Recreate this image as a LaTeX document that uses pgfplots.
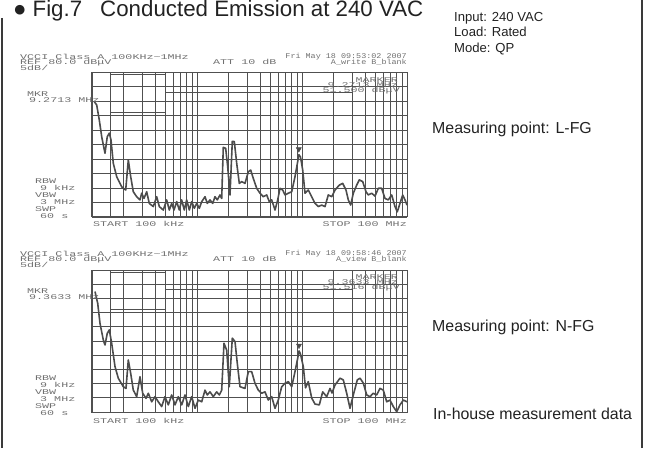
\documentclass[border=0pt]{standalone}
\usepackage{fontspec}
\setmainfont{Liberation Sans}
\newfontfamily\monof{Liberation Mono}
\usepackage{graphicx}
\usepackage{pgfplots}
\pgfplotsset{compat=1.18}
\definecolor{gridc}{HTML}{505050}
\definecolor{curvec}{HTML}{4C4C4C}
\definecolor{anc}{HTML}{707070}
\definecolor{framec}{HTML}{3A3A3A}
\definecolor{txtc}{HTML}{222222}
\newcommand{\an}[1]{\scalebox{1}[0.62]{\monof\fontsize{11.7}{11.7}\selectfont #1}}
\newcommand{\ann}[1]{\scalebox{0.72}[0.62]{\monof\fontsize{11.7}{11.7}\selectfont #1}}

\pgfplotstableread{
f db
0.1052 69.8
0.1109 68.6
0.1174 63.4
0.1237 57.7
0.1330 52.0
0.1398 57.7
0.1462 58.9
0.1517 56.6
0.1595 48.5
0.1719 43.9
0.1918 40.4
0.2094 39.3
0.2217 49.7
0.2337 43.9
0.2474 38.7
0.2665 37.0
0.2865 35.9
0.2974 38.2
0.3128 36.4
0.3319 38.7
0.3513 34.7
0.3835 33.6
0.4133 37.0
0.4375 33.6
0.4775 32.4
0.5145 35.9
0.5447 32.4
0.5741 34.7
0.6039 32.4
0.6408 35.3
0.6783 32.4
0.7150 35.9
0.7568 32.4
0.7978 35.9
0.8447 32.4
0.8904 35.3
0.9426 33.0
0.9934 34.7
1.052 33.0
1.109 35.3
1.192 37.0
1.253 34.7
1.330 35.9
1.411 34.7
1.484 37.0
1.561 35.9
1.656 37.6
1.719 36.4
1.780 54.0
1.876 53.7
1.961 47.3
2.062 37.6
2.169 56.1
2.266 56.0
2.389 48.5
2.529 41.6
2.665 42.2
2.865 41.6
3.081 45.6
3.247 46.2
3.438 43.3
3.704 39.9
3.981 38.2
4.279 37.0
4.611 37.6
4.882 35.3
5.145 35.9
5.534 32.4
5.870 35.9
6.173 39.9
6.550 39.3
6.889 37.6
7.406 38.2
7.981 38.7
8.577 43.9
9.10 49.1
9.323 51.5
9.676 50.7
10.16 46.2
10.68 38.2
11.48 39.3
12.37 37.0
13.30 34.7
14.29 33.6
15.40 34.1
16.56 33.6
17.80 37.6
19.18 37.0
20.62 39.3
22.66 41.0
24.41 41.6
26.24 39.3
27.61 35.9
29.09 34.1
30.81 38.2
33.19 41.0
35.13 42.8
37.86 42.2
40.69 38.7
42.79 37.6
46.11 38.2
49.57 37.2
53.30 39.9
57.41 39.9
61.73 36.4
66.36 35.9
71.50 37.6
76.86 33.6
80.84 31.8
85.77 34.7
91.00 37.6
95.72 35.9
100.0 34.1
}\lfg

\pgfplotstableread{
f db
0.1068 72.4
0.1133 68.3
0.1192 61.2
0.1281 55.4
0.1330 53.6
0.1398 57.7
0.1462 58.9
0.1540 54.2
0.1656 46.0
0.1780 41.9
0.1987 38.9
0.2108 38.3
0.2217 48.3
0.2337 43.6
0.2474 37.7
0.2665 35.4
0.2865 42.4
0.3041 36.6
0.3268 34.8
0.3438 36.6
0.3704 33.6
0.3981 35.4
0.4279 33.6
0.4611 31.9
0.4957 35.4
0.5330 32.5
0.5741 36.0
0.6173 32.5
0.6636 35.4
0.7150 32.5
0.7686 36.0
0.8263 31.9
0.8904 35.4
0.9572 31.3
1.029 34.2
1.109 33.6
1.192 37.7
1.253 36.0
1.330 37.1
1.429 35.4
1.540 37.1
1.631 36.0
1.719 37.7
1.808 54.2
1.918 51.8
2.030 38.9
2.169 56.0
2.301 54.8
2.420 47.1
2.568 38.9
2.865 38.3
3.081 44.2
3.319 44.2
3.568 40.1
3.835 37.7
4.133 36.6
4.442 37.1
4.775 34.2
5.145 35.4
5.534 31.3
5.947 34.2
6.408 38.9
6.889 40.1
7.406 40.7
7.981 38.9
8.577 44.2
9.10 48.9
9.363 51.5
9.676 50.4
10.29 46.0
10.80 38.5
11.48 40.7
12.37 34.9
13.30 32.8
14.62 32.5
15.74 37.1
17.19 35.4
18.48 38.3
19.31 36.7
20.62 39.5
23.01 41.9
24.74 41.3
26.65 36.6
28.65 31.3
30.81 36.0
33.63 41.3
35.68 41.9
38.35 40.2
41.33 36.0
44.42 35.4
47.75 36.6
51.45 36.0
55.34 38.3
59.47 37.7
64.08 33.6
68.89 34.2
74.06 31.9
79.81 30.1
85.77 32.5
92.21 34.2
100.0 33.6
}\nfg

\begin{document}
\begin{tikzpicture}[x=1pt,y=1pt]
\path[use as bounding box] (0,0) rectangle (646,448);
% frame (left and right edges only)
\draw[framec, line width=1.5pt] (2,430) -- (2,0);
\draw[framec, line width=1.5pt] (642,0) -- (642,448);

% title and notes
\node[anchor=base west, inner sep=0, text=txtc, font=\fontsize{22.3}{22.3}\selectfont] at (13,431) {●\hspace{6pt}Fig.7\hspace{18pt}Conducted Emission at 240 VAC};
\node[anchor=base west, inner sep=0, text=txtc, font=\fontsize{13.1}{13.1}\selectfont] at (454,426.5) {Input: 240 VAC};
\node[anchor=base west, inner sep=0, text=txtc, font=\fontsize{13.1}{13.1}\selectfont] at (454,411) {Load: Rated};
\node[anchor=base west, inner sep=0, text=txtc, font=\fontsize{13.1}{13.1}\selectfont] at (454,395.5) {Mode: QP};
\node[anchor=base west, inner sep=0, text=txtc, font=\fontsize{15.9}{15.9}\selectfont] at (432,314.5) {Measuring point: L-FG};
\node[anchor=base west, inner sep=0, text=txtc, font=\fontsize{15.9}{15.9}\selectfont] at (432,117) {Measuring point: N-FG};
\node[anchor=base west, inner sep=0, text=txtc, font=\fontsize{15.9}{15.9}\selectfont] at (433,28.5) {In-house measurement data};

% plot 1
\begin{axis}[at={(92pt,231pt)}, anchor=south west, scale only axis, width=315pt, height=145pt,
    xmode=log, xmin=0.1, xmax=100, ymin=30, ymax=80,
    axis line style={draw=gridc, line width=1pt},
    xtick={0.1,1,10,100},
    minor xtick={0.15,0.2,0.3,0.4,0.5,0.6,0.7,0.8,0.9,2,3,4,5,6,7,8,9,20,30,40,50,60,70,80,90},
    ytick={30,35,40,45,50,55,60,65,70,75,80},
    xmajorgrids, xminorgrids, ymajorgrids,
    major grid style={draw=gridc, line width=0.9pt},
    minor grid style={draw=gridc, line width=0.9pt},
    xticklabels={}, yticklabels={},
    major tick length=0pt, minor tick length=0pt]
\addplot[gridc, line width=0.9pt, const plot] coordinates {(0.15,79) (0.5,73) (30,73)};
\addplot[gridc, line width=0.9pt, const plot] coordinates {(0.15,66) (0.5,60) (30,60)};
\addplot[curvec, line width=1.6pt, line join=round] table[x=f, y=db] {\lfg};
\addplot[curvec, only marks, mark=triangle*, mark size=3pt, mark options={rotate=180}] coordinates {(9.323,53.4)};
\end{axis}

% plot 2
\begin{axis}[at={(92pt,36pt)}, anchor=south west, scale only axis, width=315pt, height=142pt,
    xmode=log, xmin=0.1, xmax=100, ymin=30, ymax=80,
    axis line style={draw=gridc, line width=1pt},
    xtick={0.1,1,10,100},
    minor xtick={0.15,0.2,0.3,0.4,0.5,0.6,0.7,0.8,0.9,2,3,4,5,6,7,8,9,20,30,40,50,60,70,80,90},
    ytick={30,35,40,45,50,55,60,65,70,75,80},
    xmajorgrids, xminorgrids, ymajorgrids,
    major grid style={draw=gridc, line width=0.9pt},
    minor grid style={draw=gridc, line width=0.9pt},
    xticklabels={}, yticklabels={},
    major tick length=0pt, minor tick length=0pt]
\addplot[gridc, line width=0.9pt, const plot] coordinates {(0.15,79) (0.5,73) (30,73)};
\addplot[gridc, line width=0.9pt, const plot] coordinates {(0.15,66) (0.5,60) (30,60)};
\addplot[curvec, line width=1.6pt, line join=round] table[x=f, y=db] {\nfg};
\addplot[curvec, only marks, mark=triangle*, mark size=3pt, mark options={rotate=180}] coordinates {(9.363,53.4)};
\end{axis}

% analyzer annotations, block 1
\begin{scope}[every node/.style={inner sep=0, text=anc}]
\node[anchor=west] at (20,391) {\an{VCCI Class A 100KHz\textasciitilde1MHz}};
\node[anchor=west] at (20,385.5) {\an{REF 80.0 dBμV}};
\node[anchor=west] at (20,380) {\an{5dB/}};
\node[anchor=west] at (213,386) {\an{ATT 10 dB}};
\node[anchor=east] at (407,391) {\ann{Fri May 18 09:53:02 2007}};
\node[anchor=east] at (407,385.5) {\ann{A\_write B\_blank}};
\node[anchor=west] at (27,353.5) {\an{MKR}};
\node[anchor=west] at (29,348) {\an{9.2713 MHz}};
\node[anchor=east] at (398,368) {\an{MARKER}};
\node[anchor=east] at (398,362.5) {\an{9.2713 MHz}};
\node[anchor=east] at (400,357) {\an{51.500 dBμV}};
\node[anchor=west] at (35,267) {\an{RBW}};
\node[anchor=west] at (40,260) {\an{9 kHz}};
\node[anchor=west] at (35,253) {\an{VBW}};
\node[anchor=west] at (40,246) {\an{3 MHz}};
\node[anchor=west] at (35,239) {\an{SWP}};
\node[anchor=west] at (40,232) {\an{60 s}};
\node[anchor=west] at (93,224) {\an{START 100 kHz}};
\node[anchor=east] at (407,224) {\an{STOP 100 MHz}};
% block 2
\node[anchor=west] at (20,194) {\an{VCCI Class A 100KHz\textasciitilde1MHz}};
\node[anchor=west] at (20,188.5) {\an{REF 80.0 dBμV}};
\node[anchor=west] at (20,183) {\an{5dB/}};
\node[anchor=west] at (213,189) {\an{ATT 10 dB}};
\node[anchor=east] at (407,194) {\ann{Fri May 18 09:58:46 2007}};
\node[anchor=east] at (407,188.5) {\ann{A\_view B\_blank}};
\node[anchor=west] at (27,156.5) {\an{MKR}};
\node[anchor=west] at (29,151) {\an{9.3633 MHz}};
\node[anchor=east] at (398,171) {\an{MARKER}};
\node[anchor=east] at (398,165.5) {\an{9.3633 MHz}};
\node[anchor=east] at (400,160) {\an{51.516 dBμV}};
\node[anchor=west] at (35,70) {\an{RBW}};
\node[anchor=west] at (40,63) {\an{9 kHz}};
\node[anchor=west] at (35,56) {\an{VBW}};
\node[anchor=west] at (40,49) {\an{3 MHz}};
\node[anchor=west] at (35,42) {\an{SWP}};
\node[anchor=west] at (40,35) {\an{60 s}};
\node[anchor=west] at (93,27.3) {\an{START 100 kHz}};
\node[anchor=east] at (407,27.3) {\an{STOP 100 MHz}};
\end{scope}
\end{tikzpicture}
\end{document}
